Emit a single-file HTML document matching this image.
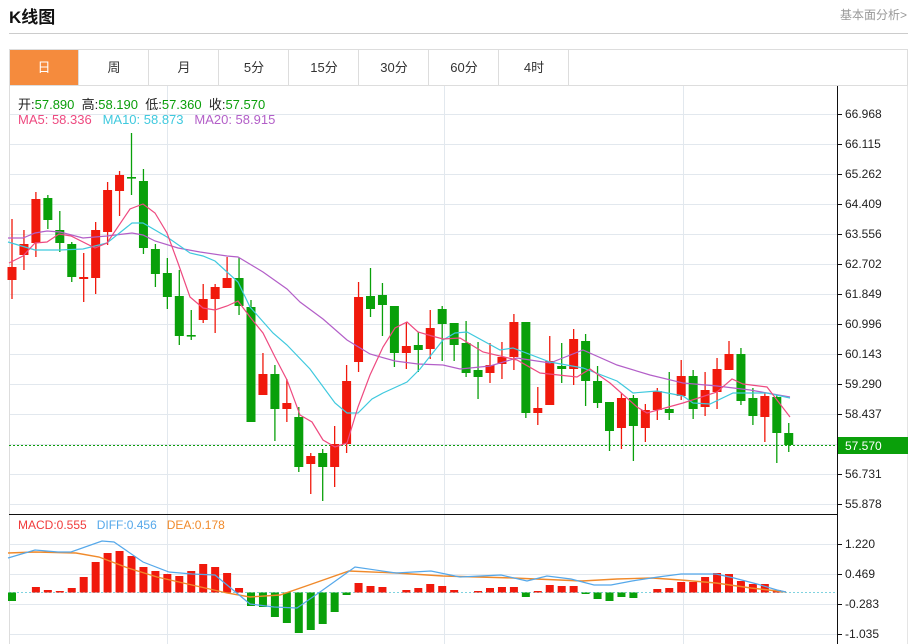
<!DOCTYPE html>
<html><head><meta charset="utf-8"><style>
body{margin:0;width:914px;height:644px;background:#fff;overflow:hidden;font-family:"Liberation Sans","Noto Sans CJK SC",sans-serif;position:relative}
.t{position:absolute;white-space:nowrap}
</style></head><body>
<div class="t" style="left:9px;top:3px;font-size:17px;font-weight:bold;color:#111">K线图</div>
<div class="t" style="left:840px;top:6px;font-size:12px;color:#999">基本面分析&gt;</div>
<div style="position:absolute;left:9px;top:33px;width:899px;height:1px;background:#ccc"></div>
<svg width="914" height="644" style="position:absolute;left:0;top:0" id="s">
<g stroke="#e2e8ee" stroke-width="1" id="grid"></g>
<rect x="9.5" y="49.5" width="898" height="36" fill="none" stroke="#ddd"/>
<rect x="10" y="50" width="68" height="35" fill="#f58b3d"/>
<g stroke="#ddd"><line x1="78.5" y1="50" x2="78.5" y2="85"/><line x1="148.5" y1="50" x2="148.5" y2="85"/><line x1="218.5" y1="50" x2="218.5" y2="85"/><line x1="288.5" y1="50" x2="288.5" y2="85"/><line x1="358.5" y1="50" x2="358.5" y2="85"/><line x1="428.5" y1="50" x2="428.5" y2="85"/><line x1="498.5" y1="50" x2="498.5" y2="85"/><line x1="568.5" y1="50" x2="568.5" y2="85"/></g>
<g font-size="13" text-anchor="middle" fill="#333" font-family="Liberation Sans,Noto Sans CJK SC,sans-serif">
<text x="44" y="72" fill="#fff">日</text><text x="114" y="72">周</text><text x="184" y="72">月</text><text x="254" y="72">5分</text><text x="324" y="72">15分</text><text x="394" y="72">30分</text><text x="464" y="72">60分</text><text x="534" y="72">4时</text></g>
<line x1="9.5" y1="86" x2="9.5" y2="644" stroke="#ddd"/>
<line x1="907.5" y1="86" x2="907.5" y2="644" stroke="#e5e5e5"/>
<line x1="9" y1="514.5" x2="837" y2="514.5" stroke="#111"/>
<line x1="837.5" y1="86" x2="837.5" y2="644" stroke="#111"/>
<line x1="9" y1="445.5" x2="837" y2="445.5" stroke="#0a9e0a" stroke-dasharray="2,2"/>
<line x1="9" y1="592.5" x2="837" y2="592.5" stroke="#7fd3e0" stroke-dasharray="2,2"/>
<g id="c"></g>
<polyline fill="none" stroke="#b35fc8" stroke-width="1.2" points="8,238 23,238 35,233 47,231 60,232 83,238 107,236 132,233 143,235 155,241 178,248 200,252 227,256 238,257 263,272 287,289 300,302 323,319 347,340 370,354 395,361 418,364 443,365 460,369 490,366 517,358 550,363 583,350 617,365 650,375 683,383 717,386 750,390 790,397"/>
<polyline fill="none" stroke="#3fc9de" stroke-width="1.2" points="8,242 35,250 60,250 83,249 107,243 132,223 143,223 167,237 190,253 203,256 215,261 238,282 250,307 273,333 287,345 310,369 335,403 347,413 358,413 372,399 383,393 407,382 420,369 443,340 455,333 467,332 500,350 513,348 550,362 583,368 617,381 633,393 657,391 683,396 693,403 710,404 733,393 767,393 790,398"/>
<polyline fill="none" stroke="#ee4a80" stroke-width="1.2" points="9,263 23,256 35,243 47,242 59,234 71,236 95,248 107,243 130,209 143,204 155,213 167,233 178,263 190,297 203,308 215,310 227,306 238,301 250,317 263,333 275,357 287,380 300,415 312,422 323,440 335,447 347,443 358,407 370,375 383,347 395,328 407,322 418,332 432,336 443,339 460,338 483,352 517,360 540,373 577,377 590,369 610,383 637,407 647,413 683,403 717,392 732,379 743,384 767,387 790,417"/>
<polyline fill="none" stroke="#f08a2b" stroke-width="1.4" points="8,553 35,552 76,553 99,557 128,568 157,577 192,585 227,593 250,597 280,595 309,585 349,571 396,573 443,576 513,578 582,581 617,579 652,578 681,580 716,583 751,588 786,592"/>
<polyline fill="none" stroke="#55a8ea" stroke-width="1.2" points="8,558 35,550 58,552 71,552 102,541 114,542 143,562 169,572 192,574 215,575 250,604 274,607 297,608 320,592 355,567 396,573 431,571 460,577 501,575 527,581 547,576 571,579 594,585 611,585 632,581 658,577 681,574 716,574 734,578 757,584 777,590 786,592"/>
<g id="ax" font-size="12" fill="#222" font-family="Liberation Sans,sans-serif"></g>
<rect x="838" y="437" width="70" height="17" fill="#0aa00a"/>
<text x="845" y="450" font-size="12" fill="#fff" font-family="Liberation Sans,sans-serif">57.570</text>
</svg>
<div class="t" style="left:18px;top:94px;font-size:13px;color:#222">开:<span style="color:#0a9e0a">57.890</span>&nbsp; 高:<span style="color:#0a9e0a">58.190</span>&nbsp; 低:<span style="color:#0a9e0a">57.360</span>&nbsp; 收:<span style="color:#0a9e0a">57.570</span></div>
<div class="t" style="left:18px;top:112px;font-size:13px"><span style="color:#ee4a80">MA5: 58.336</span>&nbsp;&nbsp; <span style="color:#3fc9de">MA10: 58.873</span>&nbsp;&nbsp; <span style="color:#b35fc8">MA20: 58.915</span></div>
<div class="t" style="left:18px;top:518px;font-size:12px"><span style="color:#f03a3a">MACD:0.555</span>&nbsp;&nbsp; <span style="color:#55a8ea">DIFF:0.456</span>&nbsp;&nbsp; <span style="color:#f08a2b">DEA:0.178</span></div>
<script>
var NS="http://www.w3.org/2000/svg";
function el(p,t,a){var e=document.createElementNS(NS,t);for(var k in a)e.setAttribute(k,a[k]);p.appendChild(e);return e;}
var g=document.getElementById('grid');
for(var y=114;y<=504;y+=30)el(g,'line',{x1:9,x2:837,y1:y+.5,y2:y+.5});
[544,574,604,634].forEach(function(y){el(g,'line',{x1:9,x2:837,y1:y+.5,y2:y+.5});});
[167,444,683].forEach(function(x){el(g,'line',{x1:x+.5,x2:x+.5,y1:86,y2:644});});
var ax=document.getElementById('ax');
var L=[["66.968",114],["66.115",144],["65.262",174],["64.409",204],["63.556",234],["62.702",264],["61.849",294],["60.996",324],["60.143",354],["59.290",384],["58.437",414],["56.731",474],["55.878",504],["1.220",544],["0.469",574],["-0.283",604],["-1.035",634]];
L.forEach(function(l){el(ax,'line',{x1:837,x2:842,y1:l[1]+.5,y2:l[1]+.5,stroke:'#111'});var t=el(ax,'text',{x:845,y:l[1]+4});t.textContent=l[0];});
// candles: open_y, close_y, high_y, low_y  (red when close above open visually)
var C=[[280,267,219,299,1],[255,244,230,270,1],[243,199,192,257,1],[198,220,195,229,0],[230,243,211,252,0],[244,277,242,282,0],[279,277,253,302,1],[278,230,222,294,1],[232,190,182,245,1],[191,175,171,216,1],[177,177.5,133,195,0],[181,248,169,254,0],[249,274,244,287,0],[273,297,258,309,0],[296,336,270,345,0],[335,335.5,310,340,0],[320,299,284,323,1],[299,287,284,333,1],[288,278,257,288,1],[278,306,258,315,0],[307,422,300,422,0],[395,374,353,395,1],[374,409,365,441,0],[409,403,379,422,1],[417,467,407,472,0],[464,456,453,494,1],[453,467,449,501,0],[467,444,426,487,1],[444,381,365,453,1],[362,297,282,372,1],[296,309,268,317,0],[295,305,283,336,0],[306,353,306,367,0],[353,346,322,369,1],[345,350,332,372,0],[349,328,310,359,1],[309,324,306,361,0],[323,345,323,361,0],[343,373,321,377,0],[370,377,342,399,0],[373,365,343,383,1],[364,357,342,379,1],[357,322,314,370,1],[322,413,322,418,0],[413,408,387,425,1],[405,361,336,405,1],[366,369,343,383,0],[369,339,329,385,1],[341,381,334,406,0],[381,403,366,408,0],[402,431,402,451,0],[428,398,393,449,1],[398,426,395,461,0],[428,410,404,442,1],[410,391,388,420,1],[409,413,372,420,0],[396,376,360,400,1],[376,409,370,419,0],[407,390,372,416,1],[392,369,358,409,1],[370,354,341,370,1],[354,401,348,405,0],[398,416,388,425,0],[417,396,393,442,1],[397,433,395,463,0],[433,445,423,452,0]];
var M=[601,593,587,590,591,588,577,562,553,551,556,567,571,574,576,571,564,567,573,588,606,607,617,623,633,630,624,612,595,583,586,587,592,590,588,584,586,590,593,591,588,587,587,597,591,585,586,586,594,599,601,597,598,593,589,588,582,582,577,573,574,581,584,584,590,593];
var cg=document.getElementById('c');
for(var i=0;i<C.length;i++){var c=C[i],x=12+i*11.95,col=c[4]?'#f0190c':'#09a00a';
el(cg,'line',{x1:x,x2:x,y1:c[2],y2:c[3],stroke:col,'stroke-width':1.3});
var t=Math.min(c[0],c[1]),h=Math.max(1.6,Math.abs(c[0]-c[1]));
el(cg,'rect',{x:x-4.5,y:t,width:9,height:h,fill:col});
var m=M[i];if(Math.abs(m-592.5)>0.8){var up=m<592.5;el(cg,'rect',{x:x-4,y:up?m:592.5,width:8,height:Math.abs(m-592.5),fill:up?'#f0190c':'#09a00a'});}}
</script>
</body></html>
